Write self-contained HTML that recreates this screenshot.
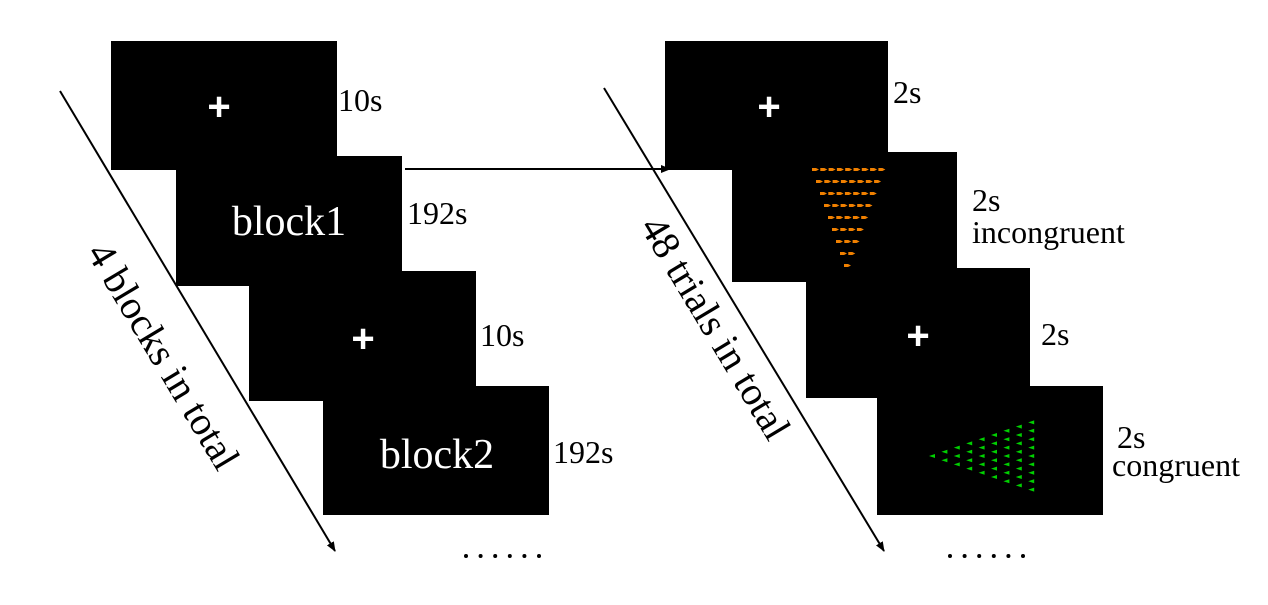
<!DOCTYPE html>
<html><head><meta charset="utf-8"><style>html,body{margin:0;padding:0;background:#fff}svg{display:block}</style></head><body>
<svg width="1268" height="605" viewBox="0 0 1268 605" xmlns="http://www.w3.org/2000/svg" font-family="Liberation Serif, serif">
<defs><marker id="ah" markerWidth="10" markerHeight="8" refX="9" refY="4" orient="auto" markerUnits="userSpaceOnUse"><path d="M0,0 L10,4 L0,8 z" fill="#000"/></marker></defs>
<rect x="111" y="41" width="226" height="129" fill="#000"/>
<rect x="176" y="156" width="226" height="130" fill="#000"/>
<rect x="249" y="271" width="227" height="130" fill="#000"/>
<rect x="323" y="386" width="226" height="129" fill="#000"/>
<rect x="665" y="41" width="223" height="129" fill="#000"/>
<rect x="732" y="152" width="225" height="130" fill="#000"/>
<rect x="806" y="268" width="224" height="130" fill="#000"/>
<rect x="877" y="386" width="226" height="129" fill="#000"/>
<g fill="#fff" font-family="Liberation Sans, sans-serif" font-weight="bold" font-size="40" text-anchor="middle">
<text x="219" y="120">+</text>
<text x="363" y="352">+</text>
<text x="769" y="120">+</text>
<text x="918" y="349">+</text>
</g>
<text x="289" y="235" fill="#fff" font-size="42" text-anchor="middle">block1</text>
<text x="437" y="468" fill="#fff" font-size="42" text-anchor="middle">block2</text>
<g font-size="32">
<text x="338" y="111">10s</text>
<text x="407" y="224">192s</text>
<text x="480" y="346">10s</text>
<text x="553" y="463">192s</text>
<text x="893" y="103">2s</text>
<text x="972" y="211">2s</text>
<text x="972" y="243">incongruent</text>
<text x="1041" y="345">2s</text>
<text x="1117" y="448">2s</text>
<text x="1112" y="476">congruent</text>
</g>
<line x1="60" y1="91" x2="335" y2="551" stroke="#000" stroke-width="2" marker-end="url(#ah)"/>
<text transform="translate(160,358) rotate(59)" font-size="40" text-anchor="middle" dominant-baseline="middle">4 blocks in total</text>
<line x1="405" y1="169" x2="670" y2="169" stroke="#000" stroke-width="2" marker-end="url(#ah)"/>
<line x1="604" y1="88" x2="884" y2="551" stroke="#000" stroke-width="2" marker-end="url(#ah)"/>
<text transform="translate(712,330) rotate(59)" font-size="40" text-anchor="middle" dominant-baseline="middle">48 trials in total</text>
<g fill="#000">
<circle cx="466" cy="556" r="2"/><circle cx="480.6" cy="556" r="2"/><circle cx="495.2" cy="556" r="2"/><circle cx="509.8" cy="556" r="2"/><circle cx="524.4" cy="556" r="2"/><circle cx="539" cy="556" r="2"/>
<circle cx="950" cy="556" r="2"/><circle cx="964.6" cy="556" r="2"/><circle cx="979.2" cy="556" r="2"/><circle cx="993.8" cy="556" r="2"/><circle cx="1008.4" cy="556" r="2"/><circle cx="1023" cy="556" r="2"/>
</g>
<g fill="#f08000">
<path d="M812,168h4l3,1.5l-3,1.5h-4z M820.3,168h4l3,1.5l-3,1.5h-4z M828.6,168h4l3,1.5l-3,1.5h-4z M836.9,168h4l3,1.5l-3,1.5h-4z M845.2,168h4l3,1.5l-3,1.5h-4z M853.5,168h4l3,1.5l-3,1.5h-4z M861.8,168h4l3,1.5l-3,1.5h-4z M870.1,168h4l3,1.5l-3,1.5h-4z M878.4,168h4l3,1.5l-3,1.5h-4z"/>
<path d="M816,180h4l3,1.5l-3,1.5h-4z M824.3,180h4l3,1.5l-3,1.5h-4z M832.6,180h4l3,1.5l-3,1.5h-4z M840.9,180h4l3,1.5l-3,1.5h-4z M849.2,180h4l3,1.5l-3,1.5h-4z M857.5,180h4l3,1.5l-3,1.5h-4z M865.8,180h4l3,1.5l-3,1.5h-4z M874.1,180h4l3,1.5l-3,1.5h-4z"/>
<path d="M820,192h4l3,1.5l-3,1.5h-4z M828.3,192h4l3,1.5l-3,1.5h-4z M836.6,192h4l3,1.5l-3,1.5h-4z M844.9,192h4l3,1.5l-3,1.5h-4z M853.2,192h4l3,1.5l-3,1.5h-4z M861.5,192h4l3,1.5l-3,1.5h-4z M869.8,192h4l3,1.5l-3,1.5h-4z"/>
<path d="M824,204h4l3,1.5l-3,1.5h-4z M832.3,204h4l3,1.5l-3,1.5h-4z M840.6,204h4l3,1.5l-3,1.5h-4z M848.9,204h4l3,1.5l-3,1.5h-4z M857.2,204h4l3,1.5l-3,1.5h-4z M865.5,204h4l3,1.5l-3,1.5h-4z"/>
<path d="M828,216h4l3,1.5l-3,1.5h-4z M836.3,216h4l3,1.5l-3,1.5h-4z M844.6,216h4l3,1.5l-3,1.5h-4z M852.9,216h4l3,1.5l-3,1.5h-4z M861.2,216h4l3,1.5l-3,1.5h-4z"/>
<path d="M832,228h4l3,1.5l-3,1.5h-4z M840.3,228h4l3,1.5l-3,1.5h-4z M848.6,228h4l3,1.5l-3,1.5h-4z M856.9,228h4l3,1.5l-3,1.5h-4z"/>
<path d="M836,240h4l3,1.5l-3,1.5h-4z M844.3,240h4l3,1.5l-3,1.5h-4z M852.6,240h4l3,1.5l-3,1.5h-4z"/>
<path d="M840,252h4l3,1.5l-3,1.5h-4z M848.3,252h4l3,1.5l-3,1.5h-4z"/>
<path d="M844,264h4l3,1.5l-3,1.5h-4z"/>
</g>
<g fill="#00d000">
<path d="M929,456l6,-2v4z"/>
<path d="M941.4,451.8l6,-2v4z m0,8.4l6,-2v4z"/>
<path d="M953.8,447.6l6,-2v4z m0,8.4l6,-2v4z m0,8.4l6,-2v4z"/>
<path d="M966.2,443.4l6,-2v4z m0,8.4l6,-2v4z m0,8.4l6,-2v4z m0,8.4l6,-2v4z"/>
<path d="M978.6,439.2l6,-2v4z m0,8.4l6,-2v4z m0,8.4l6,-2v4z m0,8.4l6,-2v4z m0,8.4l6,-2v4z"/>
<path d="M991,435l6,-2v4z m0,8.4l6,-2v4z m0,8.4l6,-2v4z m0,8.4l6,-2v4z m0,8.4l6,-2v4z m0,8.4l6,-2v4z"/>
<path d="M1003.4,430.8l6,-2v4z m0,8.4l6,-2v4z m0,8.4l6,-2v4z m0,8.4l6,-2v4z m0,8.4l6,-2v4z m0,8.4l6,-2v4z m0,8.4l6,-2v4z"/>
<path d="M1015.8,426.6l6,-2v4z m0,8.4l6,-2v4z m0,8.4l6,-2v4z m0,8.4l6,-2v4z m0,8.4l6,-2v4z m0,8.4l6,-2v4z m0,8.4l6,-2v4z m0,8.4l6,-2v4z"/>
<path d="M1028.2,422.4l6,-2v4z m0,8.4l6,-2v4z m0,8.4l6,-2v4z m0,8.4l6,-2v4z m0,8.4l6,-2v4z m0,8.4l6,-2v4z m0,8.4l6,-2v4z m0,8.4l6,-2v4z m0,8.4l6,-2v4z"/>
</g>
</svg>
</body></html>
